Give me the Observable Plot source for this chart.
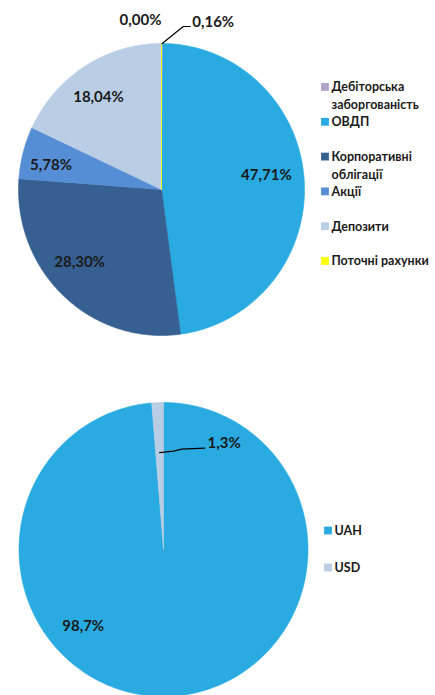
<!DOCTYPE html>
<html>
<head>
<meta charset="utf-8">
<script src="https://cdn.jsdelivr.net/npm/d3@7"></script>
<script src="https://cdn.jsdelivr.net/npm/@observablehq/plot@0.6"></script>
<style>
  html, body { margin: 0; padding: 0; background: #fff; }
  #chart svg { display: block; }
</style>
</head>
<body>
<div id="chart"></div>
<script>
// ---- Data ----
const categories1 = ["Дебіторська заборгованість", "ОВДП", "Корпоративні облігації", "Акції", "Депозити", "Поточні рахунки"];
const values1 = [0.16, 47.71, 28.30, 5.78, 18.04, 0.00];
const legendLabels1 = ["Дебіторська\nзаборгованість", "ОВДП", "Корпоративні\nоблігації", "Акції", "Депозити", "Поточні рахунки"];

const categories2 = ["UAH", "USD"];
const values2 = [98.7, 1.3];
const legendLabels2 = ["UAH", "USD"];

// ---- Style / layout ----
const colors1 = ["#b3a2c7", "#29abe2", "#376092", "#558ed5", "#b9cde5", "#ffff00"];
const colors2 = ["#29abe2", "#b9cde5"];
const W = 435, H = 695;
const pie1 = {cx: 161, cy: 189, rx: 143, ry: 146};
const pie2 = {cx: 163, cy: 549, rx: 144.5, ry: 147};
// label placement (angle in degrees clockwise from 12 o'clock, radius fraction)
const labelPos1 = [null, [82.5, 0.74], [228.9, 0.76], [282, 0.79], [325.1, 0.77], null];
const labelPos2 = [[227, 0.76], null];
const FONT = "Lato, 'Open Sans', sans-serif";
const ink = "#1a1a1a";

function buildSlices(cats, vals, colors, g, tag) {
  const arcs = d3.pie().sort(null).value(d => d)(vals);
  const polys = [];
  const info = [];
  arcs.forEach((a, i) => {
    const id = tag + i;
    const n = Math.max(2, Math.ceil((a.endAngle - a.startAngle) * 180 / Math.PI * 2));
    polys.push({id, color: colors[i], x: g.cx, y: g.cy});
    for (let k = 0; k <= n; k++) {
      const t = a.startAngle + (a.endAngle - a.startAngle) * k / n;
      polys.push({id, color: colors[i], x: g.cx + g.rx * Math.sin(t), y: g.cy - g.ry * Math.cos(t)});
    }
    polys.push({id, color: colors[i], x: g.cx, y: g.cy});
    info.push({cat: cats[i], value: vals[i], mid: (a.startAngle + a.endAngle) / 2, start: a.startAngle, end: a.endAngle});
  });
  return {polys, info};
}

const s1 = buildSlices(categories1, values1, colors1, pie1, "a");
const s2 = buildSlices(categories2, values2, colors2, pie2, "b");

const rad = d => d * Math.PI / 180;
const pt = (g, ang, f) => ({x: g.cx + g.rx * f * Math.sin(ang), y: g.cy - g.ry * f * Math.cos(ang)});
const fmt = (v, d) => v.toFixed(d).replace(".", ",") + "%";

const labels = [];
const leaders = [];
// Labels for pie 1
s1.info.forEach((s, i) => {
  const text = fmt(s.value, 2);
  if (labelPos1[i]) {
    const p = pt(pie1, rad(labelPos1[i][0]), labelPos1[i][1]);
    labels.push({x: p.x, y: p.y, text, anchor: "middle"});
  } else if (i === 0) {
    const p0 = pt(pie1, s.mid, 1);
    const p1 = {x: p0.x + 21, y: p0.y - 17};
    const p2 = {x: p1.x + 7, y: p1.y};
    leaders.push({id: "l1", ...p0}, {id: "l1", ...p1}, {id: "l1", ...p2});
    labels.push({x: p2.x + 2, y: p2.y - 4, text, anchor: "start"});
  } else {
    const p0 = pt(pie1, s.mid, 1);
    labels.push({x: p0.x - 21, y: p0.y - 23, text, anchor: "middle"});
  }
});
// Labels for pie 2
s2.info.forEach((s, i) => {
  const text = fmt(s.value, 1);
  if (labelPos2[i]) {
    const p = pt(pie2, rad(labelPos2[i][0]), labelPos2[i][1]);
    labels.push({x: p.x, y: p.y, text, anchor: "middle"});
  } else {
    const p0 = pt(pie2, s.mid, 0.66);
    const p1 = {x: p0.x + 14, y: p0.y - 1.5};
    const p2 = {x: p1.x + 8, y: p1.y - 2};
    const p3 = {x: p0.x + 45, y: p2.y - 1};
    leaders.push({id: "l2", ...p0}, {id: "l2", ...p1}, {id: "l2", ...p2}, {id: "l2", ...p3});
    labels.push({x: p3.x + 3, y: p3.y - 5, text, anchor: "start"});
  }
});

// Legends
const legend = [];
legendLabels1.forEach((t, i) => legend.push({x: 324.5, y: 86.5 + 34.8 * i, text: t, color: colors1[i]}));
legendLabels2.forEach((t, i) => legend.push({x: 327.5, y: 530 + 37 * i, text: t, color: colors2[i]}));

const chart = Plot.plot({
  width: W,
  height: H,
  margin: 0,
  x: {domain: [0, W], range: [0, W], axis: null},
  y: {domain: [0, H], range: [0, H], axis: null},
  color: {type: "identity"},
  style: {fontFamily: FONT, background: "#fff"},
  marks: [
    Plot.line(s1.polys.concat(s2.polys), {x: "x", y: "y", z: "id", fill: "color", stroke: "color", strokeWidth: 0.6, curve: "linear"}),
    Plot.line(leaders, {x: "x", y: "y", z: "id", stroke: "#000", strokeWidth: 1.2}),
    Plot.text(labels.filter(d => d.anchor === "middle"), {x: "x", y: "y", text: "text", textAnchor: "middle", fontSize: 15, fontWeight: "bold", fill: ink}),
    Plot.text(labels.filter(d => d.anchor === "start"), {x: "x", y: "y", text: "text", textAnchor: "start", fontSize: 15, fontWeight: "bold", fill: ink}),
    Plot.dot(legend, {x: "x", y: "y", symbol: "square", r: 4.4, fill: "color", stroke: null}),
    Plot.text(legend, {x: d => d.x + 6.5, y: d => d.y - 8, text: "text", textAnchor: "start", lineAnchor: "top", lineHeight: 1.4, fontSize: 12.5, fontWeight: "bold", fill: ink})
  ]
});
document.getElementById("chart").appendChild(chart);
</script>
</body>
</html>
